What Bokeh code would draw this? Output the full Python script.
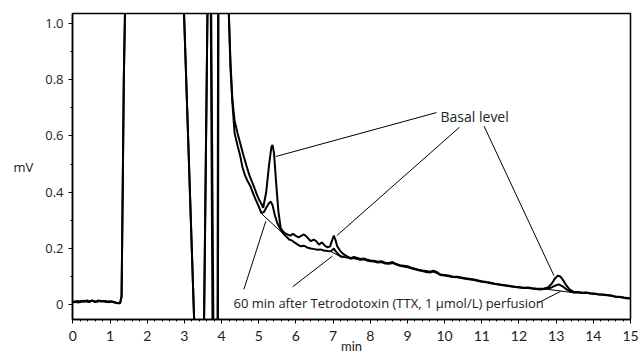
from bokeh.plotting import figure
from bokeh.models import Range1d, FixedTicker, SingleIntervalTicker, PrintfTickFormatter, Label
from bokeh.embed import file_html
from bokeh.resources import INLINE

# ---------------- data ----------------
basal_t = [0.00, 0.08, 0.15, 0.22, 0.30, 0.38, 0.45, 0.52, 0.60, 0.68, 0.75, 0.82, 0.90, 0.98,
           1.05, 1.12, 1.20, 1.27, 1.31, 1.34, 1.37, 1.41, 1.45, 2.90, 2.975, 3.28, 3.40, 3.515,
           3.635, 3.705, 3.76, 3.82, 3.89, 3.91, 4.10, 4.17, 4.24, 4.29, 4.35, 4.43, 4.50, 4.58,
           4.68, 4.75, 4.81, 4.87, 4.94, 5.01, 5.06, 5.12, 5.20, 5.28, 5.34, 5.37, 5.41, 5.47,
           5.53, 5.59, 5.65, 5.70, 5.77, 5.85, 5.92, 6.00, 6.07, 6.13, 6.20, 6.26, 6.33, 6.40,
           6.48, 6.55, 6.62, 6.70, 6.78, 6.85, 6.92, 6.97, 7.02, 7.07, 7.11, 7.20, 7.29, 7.38,
           7.47, 7.56, 7.65, 7.74, 7.83, 7.92, 8.01, 8.10, 8.20, 8.30, 8.40, 8.50, 8.60, 8.70,
           8.80, 8.90, 9.00, 9.10, 9.20, 9.30, 9.40, 9.50, 9.60, 9.70, 9.80, 9.89, 10.00, 10.10,
           10.20, 10.34, 10.45, 10.55, 10.65, 10.79, 10.90, 11.00, 11.12, 11.24, 11.35, 11.45,
           11.57, 11.69, 11.80, 11.90, 12.00, 12.13, 12.25, 12.35, 12.45, 12.58, 12.68, 12.78,
           12.88, 12.97, 13.05, 13.12, 13.20, 13.28, 13.36, 13.48, 13.58, 13.70, 13.81, 13.92,
           14.03, 14.14, 14.25, 14.37, 14.48, 14.59, 14.70, 14.82, 14.92, 15.00]
basal_mv = [0.010, 0.013, 0.008, 0.014, 0.011, 0.016, 0.012, 0.015, 0.010, 0.016, 0.012, 0.014,
            0.010, 0.013, 0.011, 0.008, 0.006, 0.007, 0.030, 0.400, 0.800, 1.100, 1.600, 1.600,
            1.095, -0.125, -0.300, -0.225, 1.215, 1.155, -0.165, -0.300, -0.200, 1.300, 1.600,
            1.137, 0.860, 0.730, 0.655, 0.610, 0.575, 0.535, 0.490, 0.460, 0.440, 0.420, 0.395,
            0.373, 0.362, 0.345, 0.400, 0.500, 0.560, 0.568, 0.540, 0.430, 0.330, 0.273, 0.262,
            0.255, 0.250, 0.246, 0.252, 0.245, 0.240, 0.244, 0.250, 0.246, 0.236, 0.226, 0.232,
            0.226, 0.214, 0.222, 0.210, 0.204, 0.208, 0.228, 0.246, 0.228, 0.208, 0.190, 0.179,
            0.172, 0.166, 0.170, 0.167, 0.163, 0.165, 0.160, 0.158, 0.157, 0.153, 0.155, 0.150,
            0.149, 0.152, 0.145, 0.141, 0.139, 0.137, 0.132, 0.128, 0.125, 0.122, 0.120, 0.118,
            0.121, 0.116, 0.108, 0.106, 0.104, 0.101, 0.100, 0.097, 0.095, 0.093, 0.090, 0.087,
            0.084, 0.081, 0.079, 0.075, 0.073, 0.071, 0.069, 0.066, 0.064, 0.063, 0.061, 0.062,
            0.059, 0.058, 0.057, 0.058, 0.062, 0.075, 0.094, 0.104, 0.100, 0.085, 0.068, 0.055,
            0.045, 0.046, 0.043, 0.044, 0.041, 0.040, 0.038, 0.037, 0.035, 0.033, 0.030, 0.029,
            0.026, 0.024, 0.024]

ttx_t = [0.00, 0.07, 0.14, 0.21, 0.28, 0.36, 0.44, 0.51, 0.58, 0.66, 0.74, 0.81, 0.88, 0.96,
         1.04, 1.11, 1.19, 1.27, 1.31, 1.34, 1.37, 1.41, 1.45, 2.90, 2.975, 3.28, 3.40, 3.515,
         3.635, 3.715, 3.785, 3.83, 3.90, 3.92, 4.10, 4.17, 4.24, 4.29, 4.35, 4.43, 4.50, 4.56,
         4.63, 4.70, 4.78, 4.85, 4.92, 5.00, 5.07, 5.14, 5.20, 5.27, 5.32, 5.37, 5.43, 5.50,
         5.59, 5.65, 5.72, 5.82, 5.90, 5.98, 6.05, 6.13, 6.22, 6.30, 6.40, 6.50, 6.58, 6.66,
         6.75, 6.85, 6.94, 7.02, 7.10, 7.20, 7.30, 7.40, 7.47, 7.56, 7.65, 7.74, 7.83, 7.92,
         8.01, 8.10, 8.20, 8.30, 8.40, 8.50, 8.60, 8.70, 8.80, 8.90, 9.00, 9.10, 9.20, 9.30,
         9.40, 9.50, 9.60, 9.70, 9.80, 9.89, 10.00, 10.10, 10.20, 10.34, 10.45, 10.55, 10.65,
         10.79, 10.90, 11.00, 11.12, 11.24, 11.35, 11.45, 11.57, 11.69, 11.80, 11.90, 12.00,
         12.13, 12.25, 12.35, 12.45, 12.58, 12.68, 12.78, 12.88, 12.97, 13.07, 13.17, 13.28,
         13.38, 13.48, 13.58, 13.70, 13.81, 13.92, 14.03, 14.14, 14.25, 14.37, 14.48, 14.59,
         14.70, 14.82, 14.92, 15.00]
ttx_mv = [0.011, 0.009, 0.014, 0.010, 0.015, 0.012, 0.010, 0.016, 0.013, 0.011, 0.015, 0.012,
          0.014, 0.009, 0.012, 0.010, 0.007, 0.006, 0.030, 0.400, 0.800, 1.100, 1.600, 1.600,
          1.095, -0.125, -0.300, -0.225, 1.215, 1.155, -0.165, -0.300, -0.200, 1.300, 1.600,
          1.137, 0.840, 0.720, 0.610, 0.565, 0.530, 0.490, 0.460, 0.440, 0.420, 0.395, 0.373,
          0.350, 0.326, 0.330, 0.345, 0.360, 0.367, 0.355, 0.320, 0.290, 0.268, 0.255, 0.245,
          0.232, 0.228, 0.220, 0.214, 0.208, 0.210, 0.204, 0.200, 0.198, 0.196, 0.197, 0.193,
          0.191, 0.190, 0.200, 0.185, 0.173, 0.170, 0.168, 0.164, 0.166, 0.163, 0.160, 0.162,
          0.157, 0.155, 0.154, 0.150, 0.152, 0.147, 0.146, 0.149, 0.143, 0.139, 0.136, 0.134,
          0.130, 0.126, 0.123, 0.120, 0.117, 0.115, 0.118, 0.113, 0.106, 0.104, 0.102, 0.099,
          0.098, 0.095, 0.093, 0.091, 0.088, 0.085, 0.082, 0.080, 0.077, 0.074, 0.072, 0.070,
          0.067, 0.065, 0.063, 0.062, 0.060, 0.060, 0.058, 0.056, 0.055, 0.056, 0.059, 0.062,
          0.068, 0.073, 0.066, 0.055, 0.048, 0.044, 0.045, 0.042, 0.043, 0.040, 0.039, 0.037,
          0.036, 0.034, 0.032, 0.029, 0.028, 0.025, 0.023, 0.023]

# callout lines (x0, y0, x1, y1 in min / mV)
basal_lines_x0 = [9.78, 10.40, 11.06]
basal_lines_y0 = [0.683, 0.631, 0.635]
basal_lines_x1 = [5.46, 7.10, 12.94]
basal_lines_y1 = [0.527, 0.246, 0.104]
ttx_lines_x0 = [4.60, 5.91, 12.53]
ttx_lines_y0 = [0.055, 0.064, 0.008]
ttx_lines_x1 = [5.19, 6.98, 13.12]
ttx_lines_y1 = [0.297, 0.173, 0.048]
# peak baselines
base_x0 = [5.08, 6.94, 12.67]
base_y0 = [0.323, 0.190, 0.057]
base_x1 = [5.73, 7.25, 13.48]
base_y1 = [0.244, 0.167, 0.043]

basal_label = "Basal level"
ttx_label = "60 min after Tetrodotoxin (TTX, 1 \u03bcmol/L) perfusion"
x_title = "min"
y_title = "mV"
y_ticks = [0, 0.2, 0.4, 0.6, 0.8, 1.0]
y_minor = [0.1, 0.3, 0.5, 0.7, 0.9]

FONT = "Open Sans"
XFONT = "Lato"
TXT = "#222222"

p = figure(width=643, height=356, output_backend="svg", toolbar_location=None,
           x_range=Range1d(-0.01, 15.0), y_range=Range1d(-0.052, 1.035),
           min_border_left=72, min_border_right=13, min_border_top=13, min_border_bottom=36)
p.background_fill_color = "white"
p.border_fill_color = "white"
p.outline_line_color = "black"
p.outline_line_width = 1.5
p.xgrid.visible = False
p.ygrid.visible = False

p.xaxis.ticker = SingleIntervalTicker(interval=1, num_minor_ticks=5)
p.yaxis.ticker = FixedTicker(ticks=y_ticks, minor_ticks=y_minor)
p.yaxis.formatter = PrintfTickFormatter(format="%.1f")
p.yaxis.major_label_overrides = {0: "0"}

for ax in (p.xaxis[0], p.yaxis[0]):
    ax.axis_line_color = "black"
    ax.axis_line_width = 1.5
    ax.major_tick_line_color = "black"
    ax.minor_tick_line_color = "black"
    ax.major_tick_in = 0
    ax.major_tick_out = 4
    ax.minor_tick_in = 0
    ax.minor_tick_out = 2
    ax.major_label_text_font = FONT
    ax.major_label_text_font_size = "13px"
    ax.major_label_text_color = TXT
    ax.axis_label_text_font = FONT
    ax.axis_label_text_font_size = "13px"
    ax.axis_label_text_font_style = "normal"
    ax.axis_label_text_color = TXT

p.xaxis.major_label_text_font = XFONT
p.xaxis.major_label_text_font_size = "14px"
p.xaxis.axis_label_text_font = XFONT
p.xaxis.axis_label = x_title
p.xaxis.major_label_standoff = 7
p.xaxis.axis_label_standoff = -6
p.yaxis.axis_label = y_title
p.yaxis.axis_label_orientation = "horizontal"
p.yaxis.major_label_standoff = 5
p.yaxis.axis_label_standoff = 9

p.line(basal_t, basal_mv, line_color="black", line_width=2)
p.line(ttx_t, ttx_mv, line_color="black", line_width=2)

p.segment(basal_lines_x0, basal_lines_y0, basal_lines_x1, basal_lines_y1, line_color="black", line_width=1)
p.segment(ttx_lines_x0, ttx_lines_y0, ttx_lines_x1, ttx_lines_y1, line_color="black", line_width=1)
p.segment(base_x0, base_y0, base_x1, base_y1, line_color="black", line_width=1)

p.add_layout(Label(x=9.89, y=0.668, text=basal_label, text_font=FONT, text_font_size="14px",
                   text_baseline="middle", text_align="left", text_color=TXT))
p.add_layout(Label(x=4.32, y=0.008, text=ttx_label, text_font=FONT, text_font_size="13px",
                   text_baseline="middle", text_align="left", text_color=TXT))

open("out.html", "w").write(file_html(p, INLINE))
